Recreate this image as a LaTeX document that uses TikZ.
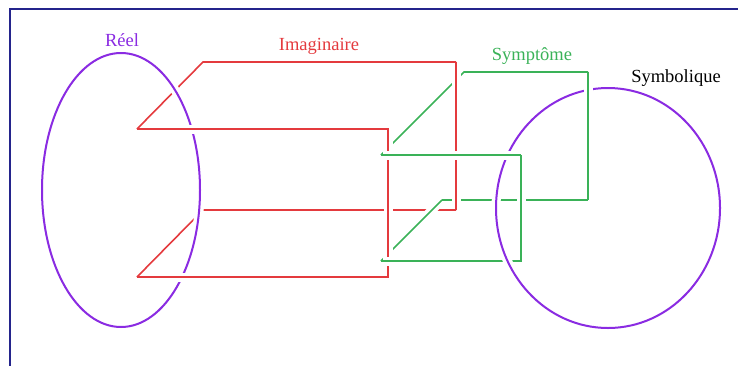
\documentclass[tikz,border=0pt]{standalone}
\usepackage{fontspec}
\setmainfont{Liberation Serif}
\definecolor{reelcol}{RGB}{138,43,226}
\definecolor{imagcol}{RGB}{228,58,62}
\definecolor{symcol}{RGB}{58,178,88}
\definecolor{framecol}{RGB}{36,36,140}
\tikzset{
	halo/.style={preaction={draw=white,line width=9pt,#1}},
	halo/.default={shorten <=8pt,shorten >=8pt},
	redbox/.style={draw=imagcol,line width=1.6pt},
	greenbox/.style={draw=symcol,line width=1.6pt},
	ring/.style={draw=reelcol,line width=2pt},
	lab/.style={font=\fontsize{18.5}{22}\selectfont,anchor=base,inner sep=0pt}
}

\begin{document}
\begin{tikzpicture}[x=1pt,y=-1pt]
	\useasboundingbox (0,0) rectangle (738,365);
	\clip (0,0) rectangle (738,365);
	\draw [framecol,line width=2pt] (10,9) rectangle (770,400);
	% Imaginaire box
	\coordinate (RA) at (203,62);
	\coordinate (RB) at (456,62);
	\coordinate (RC) at (456,210);
	\coordinate (RD) at (203,210);
	\coordinate (RE) at (137,129);
	\coordinate (RF) at (388,129);
	\coordinate (RG) at (388,277);
	\coordinate (RH) at (137,277);
	% Symptome box
	\coordinate (SA) at (464,72);
	\coordinate (SB) at (588,72);
	\coordinate (SC) at (588,200);
	\coordinate (SD) at (442,200);
	\coordinate (SE) at (381,155);
	\coordinate (SF) at (521,155);
	\coordinate (SG) at (521,261);
	\coordinate (SH) at (381,261);
	% back to front
	\draw [greenbox] (SD) -- (SC);
	\draw [redbox] (RE) -- (RA) -- (RB);
	\draw [redbox] (RH) -- (RD) -- (RC);
	\draw [greenbox,halo] (SH) -- (SD);
	\draw [greenbox] (SE) -- (SA) -- (SB);
	\draw [redbox,halo] (RB) -- (RC);
	\draw [ring,halo={}] (121,190) ellipse [x radius=79pt, y radius=137pt];
	\draw [redbox,halo] (RE) -- (RF) -- (RG) -- (RH);
	\draw [greenbox,halo={shorten <=2pt,shorten >=8pt}] (SH) -- (SG) -- (SF);
	\draw [ring,halo={}] (608,208) ellipse [x radius=112pt, y radius=120pt];
	\draw [greenbox,halo={shorten <=8pt,shorten >=2pt}] (SF) -- (SE);
	\draw [greenbox,halo] (SB) -- (SC);
	% labels
	\node [lab,text=reelcol] (reel) at (122,46) {Réel};
	\node [lab,text=imagcol] (imag) at (319,50) {Imaginaire};
	\node [lab,text=symcol] (sympt) at (532,60) {Symptôme};
	\node [lab] (symb) at (676,82) {Symbolique};
\end{tikzpicture}
\end{document}
